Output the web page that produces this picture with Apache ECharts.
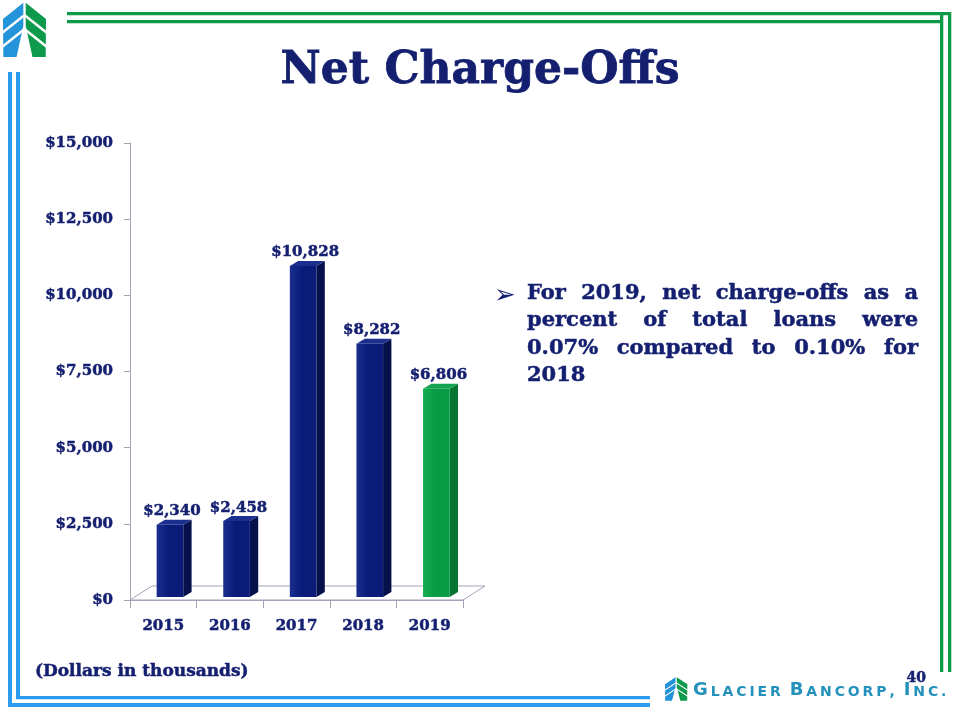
<!DOCTYPE html>
<html>
<head>
<meta charset="utf-8">
<script src="https://cdn.jsdelivr.net/npm/echarts@6/dist/echarts.min.js"></script>
<style>
html,body{margin:0;padding:0;background:#fff;}
#chart{width:960px;height:720px;}
</style>
</head>
<body>
<div id="chart"></div>
<script>
// ---- data ----
const categories = ['2015', '2016', '2017', '2018', '2019'];
const values = [2340, 2458, 10828, 8282, 6806];
const yMin = 0, yMax = 15000, yStep = 2500;
const titleText = 'Net Charge-Offs';
const noteLines = [
  'For 2019, net charge-offs as a',
  'percent of total loans were',
  '0.07% compared to 0.10% for',
  '2018'
];
const footnote = '(Dollars in thousands)';
const pageNumber = '40';
const logoWords = [['G', 'LACIER'], ['B', 'ANCORP,'], ['I', 'NC.']];

// ---- styles ----
const NAVY = '#141F70';
const BLUE_LINE = '#2E9CEE';
const GREEN_LINE = '#0C9A48';
const AXIS_GRAY = '#A3A3B8';
const SERIF = '"DejaVu Serif"';
const AXIS_BOLDEN = {textBorderColor: NAVY, textBorderWidth: 0.5};
const BOLDEN = {stroke: NAVY, lineWidth: 0.5};
const barStyles = [
  {front: ['#1A2E90', '#0A1C78'], side: '#06114C', top: '#1B2F8E'},
  {front: ['#1A2E90', '#0A1C78'], side: '#06114C', top: '#1B2F8E'},
  {front: ['#1A2E90', '#0A1C78'], side: '#06114C', top: '#1B2F8E'},
  {front: ['#1A2E90', '#0A1C78'], side: '#06114C', top: '#1B2F8E'},
  {front: ['#16AD52', '#079C45'], side: '#067532', top: '#14A34E'}
];

function money(v) {
  return '$' + Math.round(v).toString().replace(/\B(?=(\d{3})+(?!\d))/g, ',');
}

const mctx = document.createElement('canvas').getContext('2d');
function measure(text, font) { mctx.font = font; return mctx.measureText(text).width; }

const chart = echarts.init(document.getElementById('chart'), null, {renderer: 'canvas'});

// ---- decorative graphics ----
const graphics = [];
function rect(x, y, w, h, fill) {
  graphics.push({type: 'rect', shape: {x, y, width: w, height: h}, style: {fill}, silent: true});
}
// green frame (top/right)
rect(67, 12, 884, 3.3, GREEN_LINE);
rect(67, 20, 876, 3.3, GREEN_LINE);
rect(948, 12, 3.3, 660, GREEN_LINE);
rect(940, 12, 3.3, 660, GREEN_LINE);
// blue frame (left/bottom)
rect(8, 72, 4, 635, BLUE_LINE);
rect(16, 72, 4, 627, BLUE_LINE);
rect(16, 696, 634, 3.3, BLUE_LINE);
rect(8, 703, 642, 4, BLUE_LINE);

function logoIcon(x, y, sx, sy) {
  const blue = [[0, 17], [20.3, 0.7], [20.3, 24], [13.5, 55], [0.3, 55]];
  const green = [[43, 17], [22.7, 0.7], [22.7, 24], [29.5, 55], [42.7, 55]];
  const stripesL = [[[-1, 31], [21, 13.5]], [[-1, 45], [21, 27.5]]];
  const stripesR = [[[44, 31], [22, 13.5]], [[44, 45], [22, 27.5]]];
  const children = [
    {type: 'polygon', shape: {points: blue}, style: {fill: '#2394DA'}},
    {type: 'polygon', shape: {points: green}, style: {fill: '#0E9A4C'}}
  ];
  stripesL.concat(stripesR).forEach(s => children.push({
    type: 'line', shape: {x1: s[0][0], y1: s[0][1], x2: s[1][0], y2: s[1][1]},
    style: {stroke: '#fff', lineWidth: 2.4}
  }));
  graphics.push({type: 'group', x, y, scaleX: sx, scaleY: sy, children, silent: true});
}
logoIcon(3, 2, 1, 1);
logoIcon(665, 677, 0.52, 0.43);

// bottom-right company name, small caps with letter spacing
(function () {
  const big = 18, small = 14, ls = 2.9;
  const color = '#2391BC';
  let x = 693;
  const y = 699;
  logoWords.forEach((w, wi) => {
    const chars = [[w[0], big]].concat(w[1].split('').map(c => [c, small]));
    chars.forEach(([c, size]) => {
      const font = 'bold ' + size + 'px "DejaVu Sans"';
      graphics.push({type: 'text', x, y, silent: true,
        style: {text: c, fontSize: size, fontWeight: 'bold', fontFamily: 'DejaVu Sans',
          fill: color, align: 'left', verticalAlign: 'bottom'}});
      x += measure(c, font) + ls;
    });
    if (wi < logoWords.length - 1) x += 6;
  });
})();

// title
graphics.push({type: 'text', x: 480, y: 72, silent: true,
  style: {text: titleText, fontSize: 44, fontWeight: 'bold', fontFamily: 'DejaVu Serif',
    fill: NAVY, align: 'center', verticalAlign: 'middle', stroke: NAVY, lineWidth: 0.8}});

// bullet note, justified
(function () {
  const left = 527, right = 918, base0 = 304, lh = 27.4, size = 21;
  const font = 'bold ' + size + 'px ' + SERIF;
  graphics.push({type: 'text', x: 494, y: base0 - 8, silent: true,
    style: {text: '\u27A2', fontSize: 26, fontFamily: '"DejaVu Sans"', fill: NAVY,
      align: 'left', verticalAlign: 'middle'}});
  noteLines.forEach((line, i) => {
    const words = line.split(' ');
    const widths = words.map(w => measure(w, font));
    const total = widths.reduce((a, b) => a + b, 0);
    const last = i === noteLines.length - 1;
    const gap = (last || words.length < 2) ? measure(' ', font) : (right - left - total) / (words.length - 1);
    let x = left;
    words.forEach((w, k) => {
      graphics.push({type: 'text', x, y: base0 + i * lh, silent: true,
        style: Object.assign({text: w, fontSize: size, fontWeight: 'bold', fontFamily: 'DejaVu Serif',
          fill: NAVY, align: 'left', verticalAlign: 'bottom'}, BOLDEN)});
      x += widths[k] + gap;
    });
  });
})();

// footnote and page number
graphics.push({type: 'text', x: 35, y: 672, silent: true,
  style: Object.assign({text: footnote, fontSize: 17, fontWeight: 'bold', fontFamily: 'DejaVu Serif',
    fill: NAVY, align: 'left', verticalAlign: 'middle'}, BOLDEN)});
graphics.push({type: 'text', x: 926, y: 678, silent: true,
  style: Object.assign({text: pageNumber, fontSize: 14, fontWeight: 'bold', fontFamily: 'DejaVu Serif',
    fill: NAVY, align: 'right', verticalAlign: 'middle'}, BOLDEN)});

// ---- chart ----
const option = {
  animation: false,
  backgroundColor: '#ffffff',
  grid: {left: 130, right: 497, top: 143, bottom: 120, containLabel: false},
  xAxis: {
    type: 'category',
    data: categories,
    boundaryGap: true,
    axisLine: {show: true, lineStyle: {color: AXIS_GRAY, width: 1}},
    axisTick: {show: true, length: 8, lineStyle: {color: AXIS_GRAY}},
    axisLabel: Object.assign({color: NAVY, fontFamily: 'DejaVu Serif', fontWeight: 'bold', fontSize: 15, margin: 19}, AXIS_BOLDEN),
    splitLine: {show: false}
  },
  yAxis: {
    type: 'value',
    min: yMin, max: yMax, interval: yStep,
    axisLine: {show: true, lineStyle: {color: AXIS_GRAY, width: 1}},
    axisTick: {show: true, length: 6, lineStyle: {color: AXIS_GRAY}},
    axisLabel: Object.assign({color: NAVY, fontFamily: 'DejaVu Serif', fontWeight: 'bold', fontSize: 15, margin: 17,
      formatter: v => money(v)}, AXIS_BOLDEN),
    splitLine: {show: false}
  },
  series: [
    {
      type: 'custom',
      z: 1,
      silent: true,
      data: [[0, 0]],
      renderItem: function (params) {
        const cs = params.coordSys;
        const yb = cs.y + cs.height;
        const dx = 22, dy = -14;
        return {type: 'polygon',
          shape: {points: [[cs.x, yb], [cs.x + dx, yb + dy], [cs.x + cs.width + dx, yb + dy], [cs.x + cs.width, yb]]},
          style: {fill: '#ffffff', stroke: AXIS_GRAY, lineWidth: 1}};
      }
    },
    {
      type: 'custom',
      z: 3,
      data: values.map((v, i) => [i, v]),
      encode: {x: 0, y: 1},
      renderItem: function (params, api) {
        const idx = api.value(0), v = api.value(1);
        const top = api.coord([idx, v]);
        const base = api.coord([idx, 0]);
        const band = api.size([1, 0])[0];
        const fw = band * 0.4, x0 = base[0] - band * 0.1, dx = band * 0.125, dy = -5;
        const yb = base[1] - 3, yt = top[1] - 4;
        const s = barStyles[idx];
        return {type: 'group', children: [
          {type: 'polygon', shape: {points: [[x0 + fw, yt], [x0 + fw + dx, yt + dy], [x0 + fw + dx, yb + dy], [x0 + fw, yb]]},
            style: {fill: s.side}},
          {type: 'rect', shape: {x: x0, y: yt, width: fw, height: yb - yt},
            style: {fill: new echarts.graphic.LinearGradient(0, 0, 1, 0, [
              {offset: 0, color: s.front[0]}, {offset: 0.45, color: s.front[1]}, {offset: 1, color: s.front[1]}])}},
          {type: 'polygon', shape: {points: [[x0, yt], [x0 + dx, yt + dy], [x0 + fw + dx, yt + dy], [x0 + fw, yt]]},
            style: {fill: s.top}},
          {type: 'text', style: Object.assign({text: money(v), x: x0 + fw / 2 + 2, y: yt + dy - 1,
            align: 'center', verticalAlign: 'bottom', fontSize: 15, fontWeight: 'bold',
            fontFamily: 'DejaVu Serif', fill: NAVY}, BOLDEN)}
        ]};
      }
    }
  ],
  graphic: graphics
};
chart.setOption(option);
</script>
</body>
</html>
